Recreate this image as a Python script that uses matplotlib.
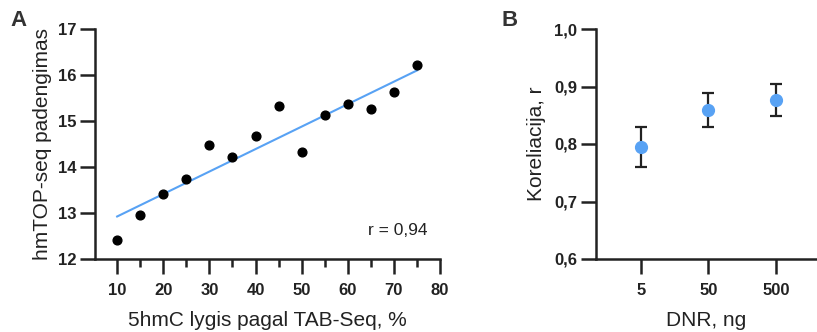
import numpy as np
import matplotlib
matplotlib.use("Agg")
import matplotlib.pyplot as plt
from matplotlib.ticker import MultipleLocator, FixedLocator

plt.rcParams['font.family'] = ['Liberation Sans', 'DejaVu Sans']

# Panel A data
tab_seq = [10, 15, 20, 25, 30, 35, 40, 45, 50, 55, 60, 65, 70, 75]
hmtop = [12.42, 12.95, 13.41, 13.75, 14.47, 14.22, 14.67, 15.33, 14.33, 15.13, 15.38, 15.26, 15.62, 16.22]
r_text = "r = 0,94"

# Panel B data
dnr_labels = ["5", "50", "500"]
corr_mean = [0.795, 0.859, 0.877]
corr_err = [0.035, 0.030, 0.028]

BLUE = '#58a2f4'
DARK = '#222222'

fig = plt.figure(figsize=(8.17, 3.32), dpi=100)
W, H = 817, 332

def ax_rect(l, r, t, b):
    return [l / W, (H - b) / H, (r - l) / W, (b - t) / H]

axA = fig.add_axes(ax_rect(95, 440, 29, 259))
axB = fig.add_axes(ax_rect(596, 816, 29, 259))

def style(ax):
    for s in ['top', 'right']:
        ax.spines[s].set_visible(False)
    for s in ['left', 'bottom']:
        ax.spines[s].set_linewidth(1.8)
        ax.spines[s].set_color(DARK)
    ax.tick_params(which='major', length=11, width=1.8, color=DARK, pad=2.5,
                   labelsize=12, labelcolor=DARK)
    ax.tick_params(axis='x', which='major', pad=6)
    ax.tick_params(which='minor', length=5.5, width=1.8, color=DARK)
    for lab in ax.get_xticklabels() + ax.get_yticklabels():
        lab.set_fontweight('bold')

# Panel A
x = np.array(tab_seq, dtype=float)
y = np.array(hmtop, dtype=float)
slope, intercept = np.polyfit(x, y, 1)
xf = np.array([x.min(), x.max()])
axA.plot(xf, slope * xf + intercept, color=BLUE, lw=1.5, zorder=2)
axA.plot(x, y, 'o', color='black', ms=6.3, zorder=3, clip_on=False)
axA.set_xlim(5.2, 80)
axA.set_ylim(12, 17)
axA.xaxis.set_major_locator(FixedLocator([10, 20, 30, 40, 50, 60, 70, 80]))
axA.xaxis.set_minor_locator(FixedLocator([15, 25, 35, 45, 55, 65, 75]))
axA.yaxis.set_major_locator(MultipleLocator(1))
style(axA)
axA.set_xlabel("5hmC lygis pagal TAB-Seq, %", fontsize=15, color=DARK, labelpad=10)
axA.set_ylabel("hmTOP-seq padengimas", fontsize=15, color=DARK, labelpad=4)
axA.text(77.2, 12.61, r_text, ha='right', va='center', fontsize=12.5, color=DARK)

# Panel B
xb = np.arange(len(dnr_labels))
axB.errorbar(xb, corr_mean, yerr=corr_err, fmt='none', ecolor=DARK,
             elinewidth=1.6, capsize=4.5, capthick=1.6, zorder=2)
axB.plot(xb, corr_mean, 'o', color=BLUE, ms=8.5, zorder=3)
axB.set_xlim(-0.66, 2.59)
axB.set_ylim(0.6, 1.0)
axB.set_xticks(xb)
axB.set_xticklabels(dnr_labels)
yt = [0.6, 0.7, 0.8, 0.9, 1.0]
axB.set_yticks(yt)
axB.set_yticklabels([f"{v:.1f}".replace('.', ',') for v in yt])
style(axB)
axB.set_xlabel("DNR, ng", fontsize=15, color=DARK, labelpad=10)
axB.set_ylabel("Koreliacija, r", fontsize=15, color=DARK, labelpad=6)

fig.text(10 / W, 1 - 21 / H, "A", fontsize=16, fontweight='bold', color='#333333', va='center', ha='left')
fig.text(501 / W, 1 - 21 / H, "B", fontsize=16, fontweight='bold', color='#333333', va='center', ha='left')

fig.savefig("out.png", dpi=100)
